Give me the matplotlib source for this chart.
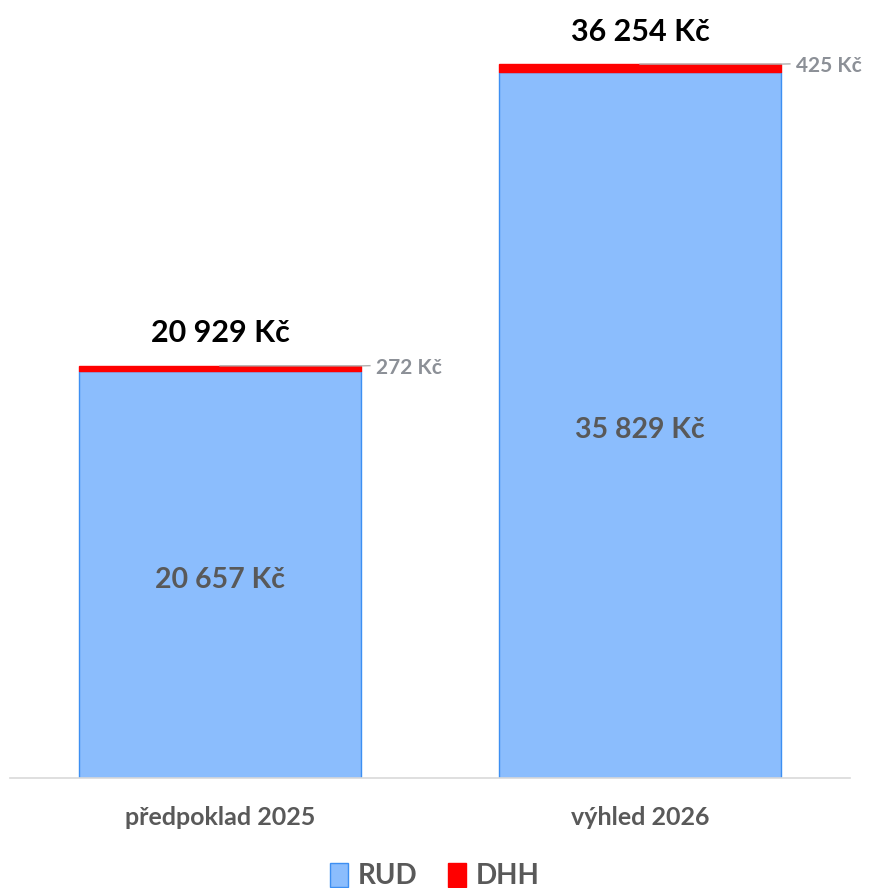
import matplotlib
matplotlib.use("Agg")
import matplotlib.pyplot as plt
import numpy as np

plt.rcParams["font.family"] = ["Lato", "DejaVu Sans"]

categories = ["předpoklad 2025", "výhled 2026"]
rud = [20657, 35829]
dhh = [272, 425]
series_names = ["RUD", "DHH"]

C_RUD = "#8bbdfd"
C_RUD_EDGE = "#3d8ff2"
C_DHH = "#ff0000"
C_TXT = "#595959"
C_GREY = "#8c9097"


def fmt(v):
    return f"{v:,}".replace(",", " ") + " Kč"


fig = plt.figure(figsize=(8.7, 8.88), dpi=100)
ax = fig.add_axes([10 / 870, 110 / 888, 840 / 870, 768 / 888])
x = np.arange(len(categories))
w = 0.67

ax.bar(x, rud, w, color=C_RUD, edgecolor=C_RUD_EDGE, linewidth=1.0, label=series_names[0], zorder=2)
ax.bar(x, dhh, w, bottom=rud, color=C_DHH, edgecolor=C_DHH, linewidth=1.0, label=series_names[1], zorder=2)

ax.set_xlim(-0.5, 1.5)
ax.set_ylim(0, 39000)

for i in range(len(categories)):
    total = rud[i] + dhh[i]
    ax.text(x[i], rud[i] / 2 - 250, fmt(rud[i]), ha="center", va="center",
            fontsize=20.5, fontweight="bold", color=C_TXT, zorder=3)
    ax.text(x[i], total + 1650, fmt(total), ha="center", va="center",
            fontsize=22, fontweight="bold", color="black", zorder=3)
    # leader line for the small DHH segment
    ax.plot([x[i], x[i] + 0.337, x[i] + 0.357], [total, total, total + 10],
            color="#b0b0b0", linewidth=1.0, zorder=3, clip_on=False)
    ax.text(x[i] + 0.372, total - 120, fmt(dhh[i]), ha="left", va="center",
            fontsize=15, fontweight="bold", color=C_GREY, zorder=3)

for s in ["top", "right", "left"]:
    ax.spines[s].set_visible(False)
ax.spines["bottom"].set_color("#d9d9d9")
ax.spines["bottom"].set_linewidth(1.2)
ax.set_yticks([])
ax.set_xticks(x)
ax.set_xticklabels(categories, fontsize=18, fontweight="bold", color=C_TXT)
ax.tick_params(axis="x", length=0, pad=20)

leg = fig.legend(loc="center", bbox_to_anchor=(0.5, 12 / 888), ncol=2, frameon=False,
                 prop={"size": 20, "weight": "bold"}, handlelength=0.65, handleheight=1.0,
                 handletextpad=0.35, columnspacing=1.1)
for t in leg.get_texts():
    t.set_color(C_TXT)

fig.patch.set_facecolor("white")
fig.savefig("out.png", dpi=100, facecolor="white")
plt.close(fig)
